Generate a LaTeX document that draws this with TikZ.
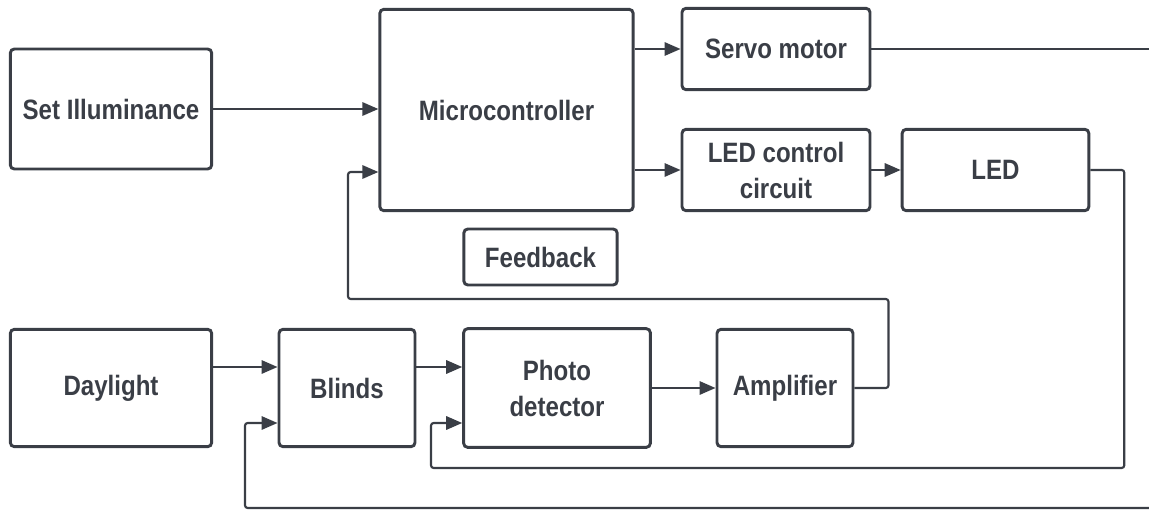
\documentclass[tikz,border=0pt]{standalone}
\usepackage{fontspec}
\setmainfont{Liberation Sans}[FakeStretch=0.86]
\usetikzlibrary{arrows.meta,calc}
\definecolor{ink}{RGB}{58,62,70}

\begin{document}
\begin{tikzpicture}[x=0.75pt,y=-0.75pt,
 box/.style={draw=ink,text=ink,rounded corners=3pt,line width=2.2pt,
 align=center,inner sep=0pt,font=\fontsize{21}{27}\selectfont\bfseries},
 arrow/.style={-{Triangle[length=12pt,width=10pt]},line width=1.6pt,draw=ink,rounded corners=2pt},
 wire/.style={line width=1.6pt,draw=ink,rounded corners=2pt}
]
\useasboundingbox (0,0) rectangle (1149,510);
\node[box,minimum width=151pt,minimum height=90pt] (setill) at (111,109) {Set Illuminance};
\node[box,minimum width=190pt,minimum height=151pt] (micro) at (506.5,110) {Microcontroller};
\node[box,minimum width=141pt,minimum height=61pt] (servo) at (776,49) {Servo motor};
\node[box,minimum width=141pt,minimum height=61pt] (ledcc) at (776,170) {LED control\\circuit};
\node[box,minimum width=140pt,minimum height=61pt] (led) at (995.5,170) {LED};
\node[box,minimum width=115pt,minimum height=42pt] (feedback) at (540.5,257) {Feedback};
\node[box,minimum width=151pt,minimum height=88pt] (daylight) at (111,388) {Daylight};
\node[box,minimum width=102pt,minimum height=88pt] (blinds) at (347,388) {Blinds};
\node[box,minimum width=140pt,minimum height=89pt] (photo) at (557,388) {Photo\\detector};
\node[box,minimum width=102pt,minimum height=88pt] (amp) at (785,388) {Amplifier};
% free ends and loop corners
\coordinate (edgeTR) at (1149,50);
\coordinate (edgeBR) at (1149,508);
\coordinate (blindloop) at (245,508);
\coordinate (photoloop) at (431,468);
\coordinate (fbloop) at (348,299);
% forward path
\draw[arrow] (setill.east) -- (setill.east -| micro.west);
\draw[arrow] (servo.west -| micro.east) -- (servo.west);
\draw[arrow] (ledcc.west -| micro.east) -- (ledcc.west);
\draw[arrow] (ledcc.east) -- (led.west);
\draw[wire] (servo.east) -- (servo.east -| edgeTR);
\draw[arrow] ($(daylight.east)+(0,-21)$) -- ($(blinds.west)+(0,-21)$);
\draw[arrow] ($(blinds.east)+(0,-21)$) -- ($(photo.west)+(0,-21)$);
\draw[arrow] (photo.east) -- (amp.west);
% feedback loops
\draw[arrow] (amp.east) -- ++(34,0) |- (fbloop) |- ($(micro.west)+(0,62)$);
\draw[arrow] (led.east) -- ++(34,0) |- (photoloop) |- ($(photo.west)+(0,35)$);
\draw[arrow] (edgeBR) -- (blindloop) |- ($(blinds.west)+(0,35)$);
\end{tikzpicture}
\end{document}
